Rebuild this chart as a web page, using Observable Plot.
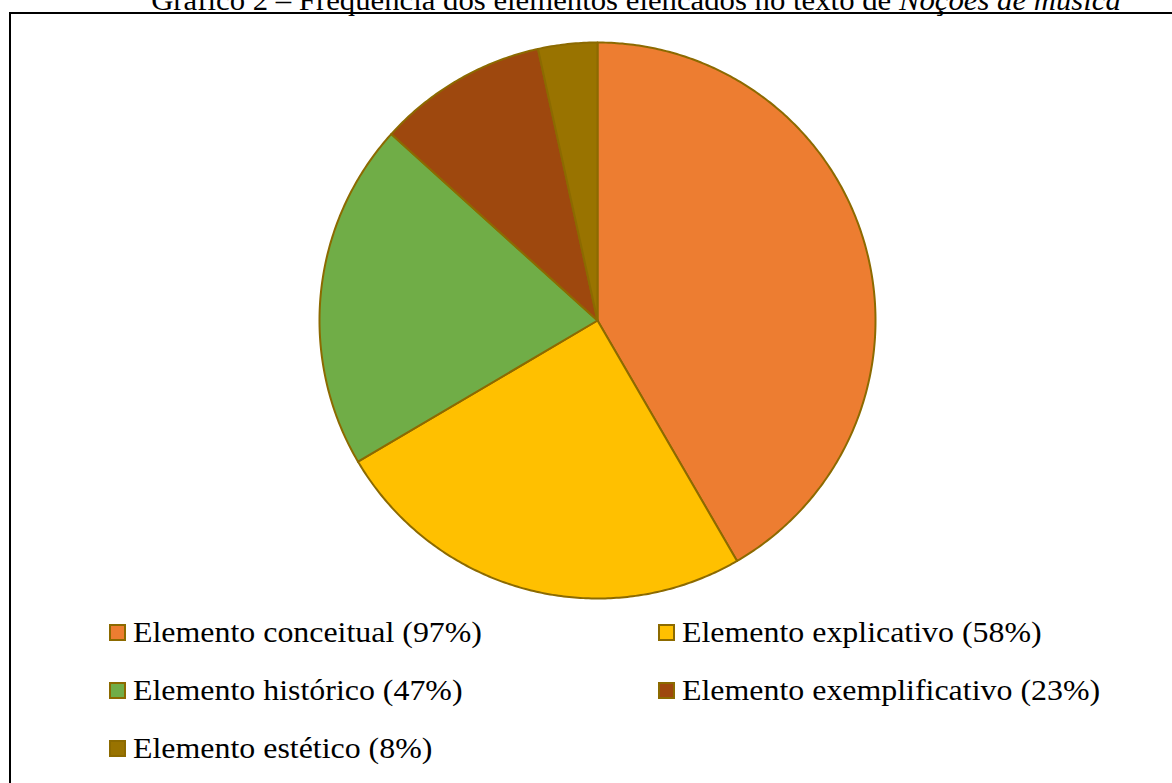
<!DOCTYPE html>
<html>
<head>
<meta charset="utf-8">
<script src="https://cdn.jsdelivr.net/npm/d3@7"></script>
<script src="https://cdn.jsdelivr.net/npm/@observablehq/plot@0.6"></script>
<style>
  html, body { margin: 0; padding: 0; background: #fff; overflow: hidden; width: 1172px; height: 783px; }
  body { position: relative; font-family: 'Liberation Serif', 'Times New Roman', Times, serif; }
  #title { position: absolute; left: 636px; top: -14px; font-size: 29px; line-height: 29px; color: #000; white-space: nowrap; transform: translateX(-50%) scaleX(1.06); font-family: 'Liberation Serif', serif; }
  #frame { position: absolute; left: 9px; top: 12px; width: 1200px; height: 800px; border: 2px solid #000; box-sizing: border-box; }
  #chart { position: absolute; left: 0; top: 0; }
  .leg { position: absolute; display: flex; align-items: center; font-size: 29px; line-height: 29px; color: #000; white-space: nowrap; font-family: 'Liberation Serif', serif; }
  .leg span { display: inline-block; transform: scaleX(1.1); transform-origin: 0 50%; }
  .sw { width: 13px; height: 13px; border: 2px solid #8c6a00; margin-right: 7px; flex: none; }
</style>
</head>
<body>
<div id="title">Gráfico 2 – Frequência dos elementos elencados no texto de <i>Noções de música</i></div>
<div id="frame"></div>
<div id="chart"></div>
<div id="legend"></div>
<script>
const categories = ["Elemento conceitual", "Elemento explicativo", "Elemento histórico", "Elemento exemplificativo", "Elemento estético"];
const values = [97, 58, 47, 23, 8];
const colors = ["#ED7D31", "#FFC000", "#70AD47", "#9E480E", "#997300"];
const legendLabels = ["Elemento conceitual (97%)", "Elemento explicativo (58%)", "Elemento histórico (47%)", "Elemento exemplificativo (23%)", "Elemento estético (8%)"];

const W = 1172, H = 610, cx = 597, cy = 320, R = 278;

const arcs = d3.pie().sort(null).value(d => d.value)(categories.map((c, i) => ({cat: c, value: values[i]})));
const pts = [];
for (const a of arcs) {
  const n = Math.max(8, Math.ceil((a.endAngle - a.startAngle) / 0.01));
  pts.push({cat: a.data.cat, x: 0, y: 0});
  for (let k = 0; k <= n; k++) {
    const t = a.startAngle + (a.endAngle - a.startAngle) * k / n;
    pts.push({cat: a.data.cat, x: Math.sin(t), y: -Math.cos(t)});
  }
  pts.push({cat: a.data.cat, x: 0, y: 0});
}

const plot = Plot.plot({
  width: W,
  height: H,
  margin: 0,
  x: {domain: [-cx / R, (W - cx) / R], range: [0, W], axis: null},
  y: {domain: [-cy / R, (H - cy) / R], range: [0, H], axis: null},
  color: {domain: categories, range: colors},
  style: {background: "transparent", overflow: "visible"},
  marks: [
    Plot.line(pts, {x: "x", y: "y", z: "cat", fill: "cat", stroke: "#8c6a00", strokeWidth: 2, strokeLinejoin: "round", curve: "linear"})
  ]
});
document.getElementById("chart").appendChild(plot);

const legend = document.getElementById("legend");
const colX = [109, 658];
const rowY = [618, 676, 734];
legendLabels.forEach((lab, i) => {
  const d = document.createElement("div");
  d.className = "leg";
  d.style.left = colX[i % 2] + "px";
  d.style.top = rowY[Math.floor(i / 2)] + "px";
  const sw = document.createElement("div");
  sw.className = "sw";
  sw.style.background = colors[i];
  d.appendChild(sw);
  const t = document.createElement("span");
  t.textContent = lab;
  d.appendChild(t);
  legend.appendChild(d);
});
</script>
</body>
</html>
